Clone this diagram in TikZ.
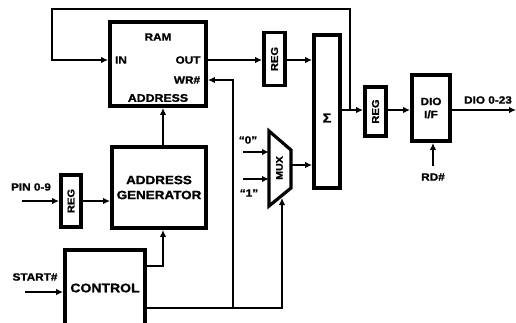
\documentclass[tikz,border=0pt]{standalone}
\usepackage{fontspec}
\setmainfont{Liberation Sans}[FakeStretch=1.12,BoldFeatures={FakeBold=1.2}]
\usetikzlibrary{arrows.meta,calc}

\begin{document}
\begin{tikzpicture}[x=1pt,y=-1pt,
    blk/.style={draw, line width=3.8pt, inner sep=0pt, font=\fontsize{11}{13}\bfseries},
    reg/.style={blk, minimum width=21pt, font=\fontsize{10}{12}\bfseries},
    wire/.style={line width=2.2pt},
    arr/.style={wire, -{Latex[length=7pt,width=6.5pt]}},
    txt/.style={font=\fontsize{10.5}{12}\bfseries, inner sep=0pt}]
    \clip (0,0) rectangle (516,322);

    % Blocks
    \node[blk, minimum width=96pt, minimum height=84pt] (ram) at (158,64) {};
    \node[reg, minimum height=53pt] (regA) at (274.5,59) {\rotatebox{90}{REG}};
    \node[blk, minimum width=26pt, minimum height=153pt] (sum) at (327,111.5) {};
    \node[reg, minimum height=49pt] (regB) at (375.5,111.5) {\rotatebox{90}{REG}};
    \node[blk, minimum width=38pt, minimum height=66pt] (dio) at (431,108) {};
    \node[blk, minimum width=94pt, minimum height=81pt, font=\fontsize{12}{15}\bfseries,
        align=center] (gen) at (159,187.5) {ADDRESS\\GENERATOR};
    \node[reg, minimum width=20pt, minimum height=52pt] (regC) at (71,201) {\rotatebox{90}{REG}};
    \node[blk, minimum width=80pt, minimum height=80pt] (ctl) at (105,290) {};

    % MUX
    \coordinate (m1) at (269,131);
    \coordinate (m2) at (291,150);
    \coordinate (m3) at (291,188);
    \coordinate (m4) at (269,206);
    \draw[line width=3.2pt, line join=miter] (m1) -- (m2) -- (m3) -- (m4) -- cycle;
    \node[font=\fontsize{9.5}{10}\bfseries, rotate=90, inner sep=0pt] (mux) at (279.5,168) {MUX};

    % Texts in the blocks
    \node[txt] (tram) at (158,37) {RAM};
    \node[txt] (tin) at (121,60) {IN};
    \node[txt] (tout) at (188,60) {OUT};
    \node[txt] (twr) at (187,80) {WR\#};
    \node[txt, font=\fontsize{11}{12}\bfseries] (tadr) at (158,98) {ADDRESS};
    \node[txt, font=\fontsize{13}{14}\bfseries] (tsum) at (327,118) {Σ};
    \node[txt, align=center] (tdio) at (431,108) {DIO\\[1pt]I/F};
    \node[txt, font=\fontsize{12.5}{14}\bfseries] (tctl) at (105,288) {CONTROL};

    % Outside labels
    \node[txt] (lpin) at (31,187) {PIN 0-9};
    \node[txt] (lstart) at (35,277) {START\#};
    \node[txt] (ldio) at (488,100) {DIO 0-23};
    \node[txt] (lrd) at (433,177) {RD\#};
    \node[txt] (lzero) at (248,140) {``0''};
    \node[txt] (lone) at (249,193) {``1''};

    % Free ends and bends
    \coordinate (fb) at (350,110);
    \coordinate (pin) at (22,201);
    \coordinate (start) at (25,292);
    \coordinate (dout) at (516,110);
    \coordinate (rd) at (433,166);
    \coordinate (c1) at (147,266);
    \coordinate (c2) at (147,308);
    \coordinate (wr) at (233,308);
    \coordinate (z0) at (243,152);
    \coordinate (z1) at (243,179);

    % Data path
    \draw[arr] (ram.east |- 0,60) -- (regA.west |- 0,60);
    \draw[arr] (regA.east |- 0,60) -- (sum.west |- 0,60);
    \draw[arr] (sum.east |- fb) -- (regB.west |- fb);
    \draw[arr] (regB.east |- fb) -- (dio.west |- fb);
    \draw[arr] (dio.east |- fb) -- (dout);
    \draw[arr] (fb) -- (fb |- 0,9) -- (52,9) -- (52,60) -- (ram.west |- 0,60);
    \draw[arr] (rd) -- (dio.south -| rd);

    % MUX in and out
    \draw[arr] (z0) -- (m1 |- z0);
    \draw[arr] (z1) -- (m1 |- z1);
    \draw[arr] (m2 |- 0,165) -- (sum.west |- 0,165);

    % Address path
    \draw[arr] (pin) -- (regC.west);
    \draw[arr] (regC.east) -- (gen.west |- regC.east);
    \draw[arr] (gen.north -| 163,0) -- (ram.south -| 163,0);

    % Control lines
    \draw[arr] (start) -- (ctl.west |- start);
    \draw[arr] (c1) -- (163,266) -- (gen.south -| 163,0);
    \draw[arr] (c2) -- (282,308) -- (282,198);
    \draw[arr] (wr) -- (233,80) -- (ram.east |- 0,80);
\end{tikzpicture}
\end{document}
